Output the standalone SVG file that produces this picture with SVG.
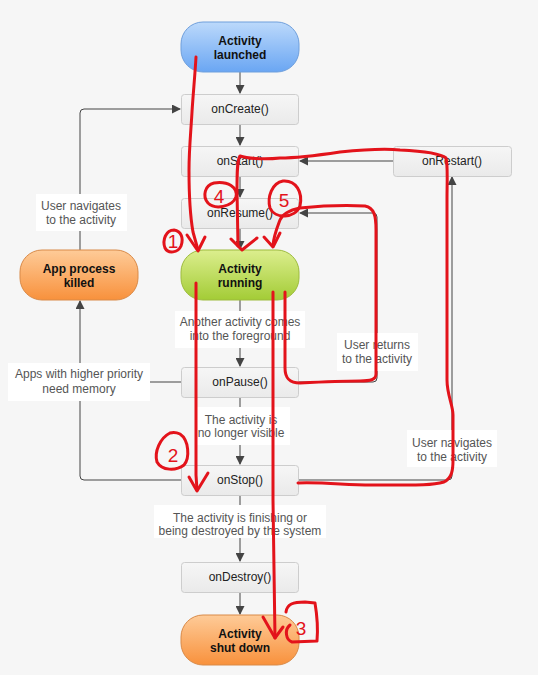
<svg xmlns="http://www.w3.org/2000/svg" width="538" height="675" viewBox="0 0 538 675">
<defs>
<linearGradient id="gBox" x1="0" y1="0" x2="0" y2="1"><stop offset="0" stop-color="#f6f6f6"/><stop offset="1" stop-color="#eaeaea"/></linearGradient>
<linearGradient id="gBlue" x1="0" y1="0" x2="0" y2="1"><stop offset="0" stop-color="#bcd9fb"/><stop offset="1" stop-color="#6aa6f3"/></linearGradient>
<linearGradient id="gGreen" x1="0" y1="0" x2="0" y2="1"><stop offset="0" stop-color="#dcee8e"/><stop offset="1" stop-color="#a3cc36"/></linearGradient>
<linearGradient id="gOrange" x1="0" y1="0" x2="0" y2="1"><stop offset="0" stop-color="#fecb98"/><stop offset="1" stop-color="#f8913c"/></linearGradient>
<marker id="arr" markerWidth="9" markerHeight="9" refX="8" refY="4.5" orient="auto" markerUnits="userSpaceOnUse"><path d="M0,0 L9,4.5 L0,9 z" fill="#444"/></marker>
</defs>
<style>
.box{fill:url(#gBox);stroke:#cdcdcd;stroke-width:1}
.bt{font-family:"Liberation Sans",Arial,sans-serif;font-size:12px;fill:#222;text-anchor:middle}
.pt{font-family:"Liberation Sans",Arial,sans-serif;font-size:12px;font-weight:bold;fill:#111;text-anchor:middle}
.lb{fill:#ffffff}
.lt{font-family:"Liberation Sans",Arial,sans-serif;font-size:12px;fill:#555;text-anchor:middle}
.c{fill:none;stroke:#444;stroke-width:1}
.r{fill:none;stroke:#e3131b;stroke-width:3;stroke-linecap:round;stroke-linejoin:round}
.rt{font-family:"Liberation Sans",Arial,sans-serif;font-size:19px;fill:#e3131b;text-anchor:middle}
</style>
<rect width="538" height="675" fill="#f6f6f6"/>

<g id="connectors">
<path class="c" d="M240,72 V93" marker-end="url(#arr)"/>
<path class="c" d="M240,124 V145" marker-end="url(#arr)"/>
<path class="c" d="M240,176 V197" marker-end="url(#arr)"/>
<path class="c" d="M240,228 V249" marker-end="url(#arr)"/>
<path class="c" d="M240,300 V366" marker-end="url(#arr)"/>
<path class="c" d="M240,397 V464" marker-end="url(#arr)"/>
<path class="c" d="M240,495 V561" marker-end="url(#arr)"/>
<path class="c" d="M240,592 V614" marker-end="url(#arr)"/>
<path class="c" d="M393,161 H300" marker-end="url(#arr)"/>
<path class="c" d="M299,382 H373 Q377,382 377,378 V217 Q377,213 373,213 H300" marker-end="url(#arr)"/>
<path class="c" d="M299,480 H448 Q452,480 452,476 V177" marker-end="url(#arr)"/>
<path class="c" d="M181,480 H84 Q80,480 80,476 V301" marker-end="url(#arr)"/>
<path class="c" d="M181,382 H80"/>
<path class="c" d="M80,250 V113 Q80,109 84,109 H180" marker-end="url(#arr)"/>
</g>

<g id="labels">
<rect class="lb" x="36" y="194" width="91" height="37"/>
<text class="lt" x="81" y="210">User navigates</text>
<text class="lt" x="81" y="224">to the activity</text>
<rect class="lb" x="175" y="311" width="130" height="37"/>
<text class="lt" x="240" y="326">Another activity comes</text>
<text class="lt" x="240" y="340">into the foreground</text>
<rect class="lb" x="8" y="363" width="142" height="38"/>
<text class="lt" x="79" y="378">Apps with higher priority</text>
<text class="lt" x="79" y="393">need memory</text>
<rect class="lb" x="195" y="407" width="95" height="38"/>
<text class="lt" x="241" y="424">The activity is</text>
<text class="lt" x="241" y="437">no longer visible</text>
<rect class="lb" x="337" y="333" width="81" height="38"/>
<text class="lt" x="377" y="349">User returns</text>
<text class="lt" x="377" y="363">to the activity</text>
<rect class="lb" x="407" y="430" width="90" height="37"/>
<text class="lt" x="452" y="447">User navigates</text>
<text class="lt" x="452" y="461">to the activity</text>
<rect class="lb" x="154" y="505" width="172" height="33"/>
<text class="lt" x="240" y="522">The activity is finishing or</text>
<text class="lt" x="240" y="535">being destroyed by the system</text>
</g>

<g id="activity-launched">
<rect x="181" y="22" width="118" height="50" rx="22" fill="url(#gBlue)" stroke="#6f9fdc"/>
<text class="pt" x="240" y="45">Activity</text>
<text class="pt" x="240" y="59">launched</text>
</g>
<g id="onCreate">
<rect class="box" x="181.5" y="94.5" width="117" height="30" rx="3"/>
<text class="bt" x="240" y="113">onCreate()</text>
</g>
<g id="onStart">
<rect class="box" x="181.5" y="146.5" width="117" height="30" rx="3"/>
<text class="bt" x="240" y="165">onStart()</text>
</g>
<g id="onRestart">
<rect class="box" x="393.5" y="146.5" width="118" height="30" rx="3"/>
<text class="bt" x="452" y="165">onRestart()</text>
</g>
<g id="onResume">
<rect class="box" x="181.5" y="198.5" width="117" height="30" rx="3"/>
<text class="bt" x="240" y="217">onResume()</text>
</g>
<g id="activity-running">
<rect x="181" y="250" width="118" height="50" rx="22" fill="url(#gGreen)" stroke="#9dbb3e"/>
<text class="pt" x="240" y="273">Activity</text>
<text class="pt" x="240" y="287">running</text>
</g>
<g id="app-process-killed">
<rect x="20" y="250" width="118" height="50" rx="22" fill="url(#gOrange)" stroke="#d98a48"/>
<text class="pt" x="79" y="273">App process</text>
<text class="pt" x="79" y="287">killed</text>
</g>
<g id="onPause">
<rect class="box" x="181.5" y="367.5" width="117" height="30" rx="3"/>
<text class="bt" x="240" y="386">onPause()</text>
</g>
<g id="onStop">
<rect class="box" x="181.5" y="465.5" width="117" height="30" rx="3"/>
<text class="bt" x="240" y="484">onStop()</text>
</g>
<g id="onDestroy">
<rect class="box" x="181.5" y="562.5" width="117" height="30" rx="3"/>
<text class="bt" x="240" y="581">onDestroy()</text>
</g>
<g id="activity-shut-down">
<rect x="181" y="615" width="118" height="50" rx="22" fill="url(#gOrange)" stroke="#d98a48"/>
<text class="pt" x="240" y="638">Activity</text>
<text class="pt" x="240" y="652">shut down</text>
</g>

<g id="annotations">
<path class="r" d="M196,57 C195,75 193,95 192,112 C191,130 189,150 189,170 C189,190 190,215 193,232 L198,250"/>
<path class="r" d="M187,235 L198,251 L205,237"/>
<path class="r" d="M174,230 C166,230 162,240 165,248 C168,254 178,253 181,246 C184,238 181,231 174,230"/>
<text class="rt" x="173" y="248">1</text>

<path class="r" d="M298,483 C330,482 350,486 380,485 C410,485 430,486 444,482 C452,478 453,470 453,460 L453,415 C453,405 447,395 447,380 L447,200 C447,180 448,165 446,158 C440,153 420,151 400,150 C380,148 360,150 340,152 C320,155 300,158 280,158 C262,160 246,158 240,156 C237,160 237,175 237,190 L238,246"/>
<path class="r" d="M231,239 L242,250 L257,238"/>
<path class="r" d="M214,183 C205,185 202,196 208,203 C215,210 232,207 236,197 C238,187 228,181 214,183"/>
<text class="rt" x="219" y="203">4</text>

<path class="r" d="M285,292 L285,368 C285,379 290,383 300,383 C320,382 340,381 360,381 C370,381 376,380 376,374 L376,230 C376,215 374,208 365,206 C345,205 320,206 300,208 C290,210 283,213 280,220 C277,228 274,235 273,245"/>
<path class="r" d="M264,237 L273,247 L280,233"/>
<path class="r" d="M283,181 C272,183 267,197 270,208 C275,219 295,219 300,206 C303,192 296,180 283,181"/>
<text class="rt" x="284" y="207">5</text>

<path class="r" d="M273,292 L273,500 L275,638"/>
<path class="r" d="M263,617 L275,638 L283,627"/>
<path class="r" d="M286,612 C287,604 293,602 305,602 L315,603 C317,615 318,630 317,641 L292,642 C286,640 284,630 290,625"/>
<text class="rt" x="301" y="635">3</text>

<path class="r" d="M196,283 L196,475 L197,490"/>
<path class="r" d="M189,477 L197,491 L208,473"/>
<path class="r" d="M170,433 C160,438 154,452 157,462 C162,471 176,471 184,465 C190,458 189,440 180,434 C176,432 173,432 170,433"/>
<text class="rt" x="173" y="462">2</text>
</g>
</svg>
